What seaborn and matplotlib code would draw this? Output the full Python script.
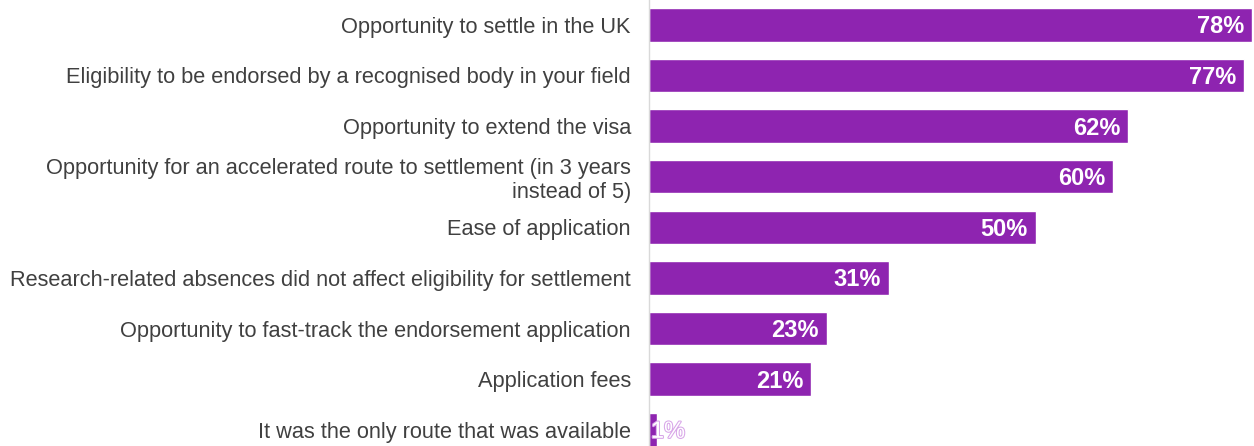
import matplotlib
matplotlib.use("Agg")
import matplotlib.pyplot as plt
import matplotlib.patheffects as pe
import seaborn as sns
import pandas as pd

categories = [
    "Opportunity to settle in the UK",
    "Eligibility to be endorsed by a recognised body in your field",
    "Opportunity to extend the visa",
    "Opportunity for an accelerated route to settlement (in 3 years\ninstead of 5)",
    "Ease of application",
    "Research-related absences did not affect eligibility for settlement",
    "Opportunity to fast-track the endorsement application",
    "Application fees",
    "It was the only route that was available",
]
values = [78, 77, 62, 60, 50, 31, 23, 21, 1]

df = pd.DataFrame({"reason": categories, "pct": values})

sns.set_theme(style="white")
plt.rcParams["font.family"] = ["Liberation Sans", "DejaVu Sans"]

BAR = "#8E24B0"

fig = plt.figure(figsize=(12.54, 4.46), dpi=100)
ax = fig.add_axes([649 / 1254, 0, 605 / 1254, 1])

sns.barplot(data=df, x="pct", y="reason", color=BAR, saturation=1,
            width=0.66, ax=ax, orient="h")

ax.set_xlim(0, 78.26)
ax.set_ylim(8.32, -0.49)
ax.set_xlabel("")
ax.set_ylabel("")
ax.set_xticks([])
for s in ["top", "right", "bottom"]:
    ax.spines[s].set_visible(False)
ax.spines["left"].set_color("#D9D9D9")
ax.spines["left"].set_linewidth(1.0)
ax.tick_params(axis="y", length=0, pad=13, labelsize=15.7, labelcolor="#404040")
for lbl in ax.get_yticklabels():
    lbl.set_horizontalalignment("right")
    lbl.set_linespacing(1.15)

for i, v in enumerate(values):
    if v >= 5:
        ax.text(v - 1.0, i + 0.04, f"{v}%", ha="right", va="center", color="white",
                fontsize=17, fontweight="bold")
    else:
        ax.text(v - 0.75, i + 0.04, f"{v}%", ha="left", va="center", color="white",
                fontsize=17,
                path_effects=[pe.withStroke(linewidth=1.5, foreground="#D8A6E8")])

fig.savefig("out.png", dpi=100)
